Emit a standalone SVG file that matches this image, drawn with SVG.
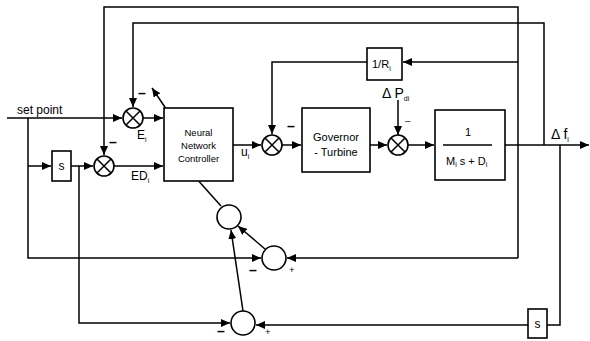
<svg xmlns="http://www.w3.org/2000/svg" width="590" height="341" viewBox="0 0 590 341">
<defs>
<marker id="ah" markerWidth="9" markerHeight="8" refX="9" refY="4" orient="auto" markerUnits="userSpaceOnUse"><path d="M0,0 L9,4 L0,8 Z" fill="#000"/></marker>
<style>
.ln{fill:none;stroke:#000;stroke-width:1.5}
.ar{fill:none;stroke:#000;stroke-width:1.5;marker-end:url(#ah)}
.bx{fill:#fff;stroke:#000;stroke-width:1.6}
.ci{fill:#fff;stroke:#000;stroke-width:1.6}
.t{font-family:"Liberation Sans",Arial,sans-serif;fill:#000}
.sm{font-size:9.5px}
.md{font-size:11px}
.lg{font-size:12px}
.mi{font-size:14px;font-weight:bold}
.sub{font-size:7px}
</style>
</defs>
<rect width="590" height="341" fill="#fff"/>
<g id="connectors">
<path class="ar" d="M518,258 V7 H104 V155"/>
<path class="ar" d="M518,258 H287"/>
<path class="ar" d="M518,62 H403"/>
<path class="ar" d="M367,62 H272 V134"/>
<path class="ar" d="M544,145 V23 H133 V107"/>
<path class="ar" d="M7,118 H122"/>
<path class="ar" d="M143,118 H163"/>
<path class="ar" d="M28,118 V258 H261"/>
<path class="ar" d="M28,166 H51"/>
<path class="ar" d="M71,166 H93"/>
<path class="ar" d="M79,166 V323 H230"/>
<path class="ar" d="M114,166 H163"/>
<path class="ar" d="M233,145 H261"/>
<path class="ar" d="M282,145 H301"/>
<path class="ar" d="M370,145 H387"/>
<path class="ar" d="M408,145 H434"/>
<path class="ar" d="M505,145 H589"/>
<path class="ar" d="M398,100 V135"/>
<path class="ln" d="M560,145 V325 H547"/>
<path class="ar" d="M528,325 H256"/>
<path class="ar" d="M243,311 L231,230"/>
<path class="ar" d="M265,249 L238,226"/>
<path class="ln" d="M221,206 L187,168"/>
<path class="ar" d="M173,119 L152,88"/>
</g>
<g id="sum_E"><circle class="ci" cx="133" cy="118" r="10"/><path class="ln" d="M126,111 L140,125 M140,111 L126,125"/></g>
<g id="sum_ED"><circle class="ci" cx="104" cy="166" r="10"/><path class="ln" d="M97,159 L111,173 M111,159 L97,173"/></g>
<g id="sum_u"><circle class="ci" cx="272" cy="145" r="10"/><path class="ln" d="M265,138 L279,152 M279,138 L265,152"/></g>
<g id="sum_P"><circle class="ci" cx="398" cy="145" r="10"/><path class="ln" d="M391,138 L405,152 M405,138 L391,152"/></g>
<g id="nn"><rect class="bx" x="164" y="108" width="69" height="73"/>
<text class="t sm" x="198.5" y="136" text-anchor="middle">Neural</text>
<text class="t sm" x="198.5" y="149" text-anchor="middle">Network</text>
<text class="t sm" x="198.5" y="162" text-anchor="middle">Controller</text></g>
<g id="s1"><rect class="bx" x="52" y="151" width="19" height="30"/><text class="t lg" x="61.5" y="170" text-anchor="middle">s</text></g>
<g id="s2"><rect class="bx" x="528" y="309" width="19" height="29"/><text class="t lg" x="537.5" y="328" text-anchor="middle">s</text></g>
<g id="gov"><rect class="bx" x="302" y="108" width="68" height="64"/>
<text class="t md" x="336" y="141" text-anchor="middle">Governor</text>
<text class="t md" x="336" y="156" text-anchor="middle">- Turbine</text></g>
<g id="plant"><rect class="bx" x="435" y="110" width="70" height="70"/>
<text class="t md" x="468" y="136" text-anchor="middle">1</text>
<line class="ln" x1="443" y1="145" x2="492" y2="145"/>
<text class="t" font-size="11" x="446" y="165">M<tspan class="sub" dy="2">i</tspan><tspan dy="-2"> s + D</tspan><tspan class="sub" dy="2">i</tspan></text></g>
<g id="invR"><rect class="bx" x="367" y="48" width="35" height="32"/>
<text class="t md" x="372" y="68">1/R<tspan class="sub" dy="3">i</tspan></text></g>
<g id="adj"><circle class="ci" cx="229" cy="217" r="12"/></g>
<g id="diff1"><circle class="ci" cx="274" cy="258" r="12"/></g>
<g id="diff2"><circle class="ci" cx="243" cy="323" r="12"/></g>
<g id="labels">
<text class="t lg" x="17" y="114">set point</text>
<text class="t lg" x="137" y="139">E<tspan class="sub" dy="3">i</tspan></text>
<text class="t lg" x="131" y="180">ED<tspan class="sub" dy="3">i</tspan></text>
<text class="t lg" x="241" y="156">u<tspan class="sub" dy="3">i</tspan></text>
<text class="t" font-size="14" x="382" y="98">Δ P<tspan class="sub" dy="3">di</tspan></text>
<text class="t" font-size="14" x="551" y="139">Δ f<tspan class="sub" dy="3">i</tspan></text>
<text class="t mi" x="138" y="98">–</text>
<text class="t mi" x="109" y="147">–</text>
<text class="t mi" x="287" y="131">–</text>
<text class="t sm" x="405" y="124">–</text>
<text class="t mi" x="249" y="275">–</text>
<text class="t mi" x="217" y="336">–</text>
<text class="t sm" x="289" y="273">+</text>
<text class="t sm" x="265" y="335">+</text>
</g>
</svg>
